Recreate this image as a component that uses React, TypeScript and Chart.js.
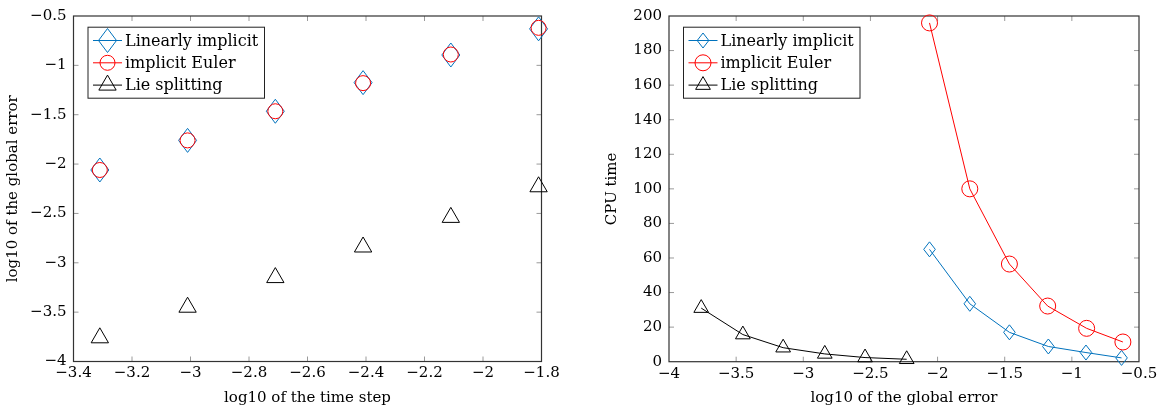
import React, { useEffect, useRef } from "react";
import { Chart, registerables } from "chart.js";
Chart.register(...registerables);

const FONT = "'DejaVu Serif', 'Liberation Serif', serif";
const TICK_SIZE = 15;
const TITLE_SIZE = 15;
const LEGEND_SIZE = 16;
const BLUE = "rgb(0,114,189)";
const RED = "rgb(255,0,0)";
const BLACK = "rgb(0,0,0)";

const seriesNames = ["Linearly implicit", "implicit Euler", "Lie splitting"];

// log10 of the time step
const timeSteps = [-3.31, -3.01, -2.71, -2.41, -2.11, -1.81];
// log10 of the global error
const errLinImp = [-2.06, -1.76, -1.465, -1.175, -0.895, -0.63];
const errImpEuler = [-2.06, -1.76, -1.465, -1.18, -0.89, -0.62];
const errLie = [-3.76, -3.45, -3.15, -2.84, -2.54, -2.23];
// CPU time
const cpuLinImp = [65, 33.5, 17, 8.8, 5.3, 2.2];
const cpuImpEuler = [196, 100, 56.5, 32.2, 19.3, 11.4];
const cpuLie = [31, 15.7, 8.1, 4.5, 2.4, 1.4];

// axis ranges [min, max, step]
const leftXRange = [-3.4, -1.8, 0.2];
const leftYRange = [-4, -0.5, 0.5];
const rightXRange = [-4, -0.5, 0.5];
const rightYRange = [0, 200, 20];

const fmt = (v: number) => {
  const r = Math.round(v * 1000) / 1000;
  return r < 0 ? "\u2212" + String(-r) : String(r);
};

type Marker = { kind: "diamond" | "circle" | "triangle"; r: number; hw?: number; color: string };

function drawMarker(ctx: CanvasRenderingContext2D, m: Marker, x: number, y: number) {
  ctx.save();
  ctx.strokeStyle = m.color;
  ctx.lineWidth = 1;
  ctx.beginPath();
  if (m.kind === "diamond") {
    const hw = m.hw || m.r * 0.75;
    ctx.moveTo(x, y - m.r);
    ctx.lineTo(x + hw, y);
    ctx.lineTo(x, y + m.r);
    ctx.lineTo(x - hw, y);
    ctx.closePath();
  } else if (m.kind === "circle") {
    ctx.arc(x, y, m.r, 0, Math.PI * 2);
  } else {
    let a = 0;
    ctx.moveTo(x + Math.sin(a) * m.r, y - Math.cos(a) * m.r);
    a += (2 * Math.PI) / 3;
    ctx.lineTo(x + Math.sin(a) * m.r, y - Math.cos(a) * m.r);
    a += (2 * Math.PI) / 3;
    ctx.lineTo(x + Math.sin(a) * m.r, y - Math.cos(a) * m.r);
    ctx.closePath();
  }
  ctx.stroke();
  ctx.restore();
}

function pgfPlugin(markers: Marker[], colors: string[]) {
  return {
    id: "pgfFrame",
    beforeDatasetsDraw(chart: any) {
      const { ctx, chartArea: ca, scales } = chart;
      ctx.save();
      ctx.strokeStyle = "#9a9a9a";
      ctx.lineWidth = 1;
      const L = 5;
      for (const t of scales.x.ticks) {
        const px = scales.x.getPixelForValue(t.value);
        if (px - ca.left < 1 || ca.right - px < 1) continue;
        ctx.beginPath();
        ctx.moveTo(px, ca.bottom);
        ctx.lineTo(px, ca.bottom - L);
        ctx.moveTo(px, ca.top);
        ctx.lineTo(px, ca.top + L);
        ctx.stroke();
      }
      for (const t of scales.y.ticks) {
        const py = scales.y.getPixelForValue(t.value);
        if (py - ca.top < 1 || ca.bottom - py < 1) continue;
        ctx.beginPath();
        ctx.moveTo(ca.left, py);
        ctx.lineTo(ca.left + L, py);
        ctx.moveTo(ca.right, py);
        ctx.lineTo(ca.right - L, py);
        ctx.stroke();
      }
      ctx.strokeStyle = "#333";
      ctx.lineWidth = 1.2;
      ctx.strokeRect(ca.left, ca.top, ca.right - ca.left, ca.bottom - ca.top);
      ctx.restore();
    },
    // diamonds (aspect 0.75) are drawn at the library-computed point positions
    afterDatasetDraw(chart: any, args: any) {
      const m = markers[args.index];
      if (!m || m.kind !== "diamond") return;
      const ctx = chart.ctx;
      for (const el of args.meta.data) {
        drawMarker(ctx, m, el.x, el.y);
      }
    },
    afterDatasetsDraw(chart: any) {
      const { ctx, chartArea: ca } = chart;
      const bx = ca.left + 14.5;
      const by = ca.top + 11.2;
      const bw = 176.5;
      const bh = 71;
      ctx.save();
      ctx.fillStyle = "#fff";
      ctx.fillRect(bx, by, bw, bh);
      ctx.strokeStyle = "#222";
      ctx.lineWidth = 1;
      ctx.strokeRect(bx, by, bw, bh);
      ctx.font = `${LEGEND_SIZE}px ${FONT}`;
      ctx.textBaseline = "middle";
      ctx.textAlign = "left";
      seriesNames.forEach((name, i) => {
        const y = by + 13.3 + i * 22.3;
        ctx.strokeStyle = colors[i];
        ctx.lineWidth = 1;
        ctx.beginPath();
        ctx.moveTo(bx + 5, y);
        ctx.lineTo(bx + 34, y);
        ctx.stroke();
        drawMarker(ctx, markers[i], bx + 19.5, y);
        ctx.fillStyle = "#000";
        ctx.fillText(name, bx + 37, y + 1);
      });
      ctx.restore();
    },
  };
}

function axisX(range: number[], title: string, height: number) {
  return {
    type: "linear",
    min: range[0],
    max: range[1],
    ticks: { stepSize: range[2], callback: (v: any) => fmt(Number(v)), color: "#000", font: { family: FONT, size: TICK_SIZE }, padding: 3, maxRotation: 0, autoSkip: false },
    grid: { display: false, drawTicks: false },
    border: { display: false },
    title: { display: true, text: title, color: "#000", font: { family: FONT, size: TITLE_SIZE }, padding: { top: 0, bottom: 3 } },
    afterFit: (s: any) => {
      s.height = height;
    },
  };
}

function axisY(range: number[], title: string, width: number, titlePad: number) {
  return {
    type: "linear",
    min: range[0],
    max: range[1],
    ticks: { stepSize: range[2], callback: (v: any) => fmt(Number(v)), color: "#000", font: { family: FONT, size: TICK_SIZE }, padding: 7, autoSkip: false },
    grid: { display: false, drawTicks: false },
    border: { display: false },
    title: { display: true, text: title, color: "#000", font: { family: FONT, size: TITLE_SIZE }, padding: { top: titlePad, bottom: 0 } },
    afterFit: (s: any) => {
      s.width = width;
    },
  };
}

const pts = (xs: number[], ys: number[]) => xs.map((x, i) => ({ x, y: ys[i] }));

export default function App() {
  const leftRef = useRef<HTMLCanvasElement>(null);
  const rightRef = useRef<HTMLCanvasElement>(null);

  useEffect(() => {
    const leftMarkers: Marker[] = [
      { kind: "diamond", r: 12, hw: 9, color: BLUE },
      { kind: "circle", r: 7.5, color: RED },
      { kind: "triangle", r: 10, color: BLACK },
    ];
    const rightMarkers: Marker[] = [
      { kind: "diamond", r: 7.5, hw: 5.8, color: BLUE },
      { kind: "circle", r: 8, color: RED },
      { kind: "triangle", r: 8.5, color: BLACK },
    ];
    const colors = [BLUE, RED, BLACK];

    const common = (m: Marker[], withLine: boolean) =>
      m.map((mk, i) => ({
        label: seriesNames[i],
        showLine: withLine,
        borderColor: colors[i],
        borderWidth: 1,
        pointStyle: mk.kind === "diamond" ? "rectRot" : mk.kind,
        pointRadius: mk.kind === "diamond" ? 0 : mk.r,
        pointHoverRadius: mk.kind === "diamond" ? 0 : mk.r,
        pointBorderColor: colors[i],
        pointBackgroundColor: "rgba(0,0,0,0)",
        pointBorderWidth: 1,
        pointHoverBorderWidth: 1,
        clip: false as any,
        order: 2 - i,
        tension: 0,
      }));

    const lc = common(leftMarkers, false);
    const left = new Chart(leftRef.current!, {
      type: "scatter",
      data: {
        datasets: [
          { ...lc[0], data: pts(timeSteps, errLinImp) },
          { ...lc[1], data: pts(timeSteps, errImpEuler) },
          { ...lc[2], data: pts(timeSteps, errLie) },
        ] as any,
      },
      options: {
        animation: false,
        responsive: true,
        maintainAspectRatio: false,
        events: [],
        layout: { padding: { left: 0, top: 10.7, right: 40.5, bottom: 0 } },
        plugins: { legend: { display: false }, tooltip: { enabled: false } },
        scales: {
          x: axisX(leftXRange, "log10 of the time step", 48.5) as any,
          y: axisY(leftYRange, "log10 of the global error", 73.5, 4.3) as any,
        },
      },
      plugins: [pgfPlugin(leftMarkers, colors) as any],
    });

    const rc = common(rightMarkers, true);
    const right = new Chart(rightRef.current!, {
      type: "scatter",
      data: {
        datasets: [
          { ...rc[0], data: pts(errLinImp, cpuLinImp) },
          { ...rc[1], data: pts(errImpEuler, cpuImpEuler) },
          { ...rc[2], data: pts(errLie, cpuLie) },
        ] as any,
      },
      options: {
        animation: false,
        responsive: true,
        maintainAspectRatio: false,
        events: [],
        layout: { padding: { left: 0, top: 9.3, right: 25, bottom: 0 } },
        plugins: { legend: { display: false }, tooltip: { enabled: false } },
        scales: {
          x: axisX(rightXRange, "log10 of the global error", 48.3) as any,
          y: axisY(rightYRange, "CPU time", 87, 21.6) as any,
        },
      },
      plugins: [pgfPlugin(rightMarkers, colors) as any],
    });

    return () => {
      left.destroy();
      right.destroy();
    };
  }, []);

  return (
    <div style={{ position: "absolute", left: 0, top: 0, width: 1164, height: 410, background: "#fff" }}>
      <div style={{ position: "absolute", left: 0, top: 0, width: 582, height: 410 }}>
        <canvas ref={leftRef} />
      </div>
      <div style={{ position: "absolute", left: 582, top: 0, width: 582, height: 410 }}>
        <canvas ref={rightRef} />
      </div>
    </div>
  );
}
